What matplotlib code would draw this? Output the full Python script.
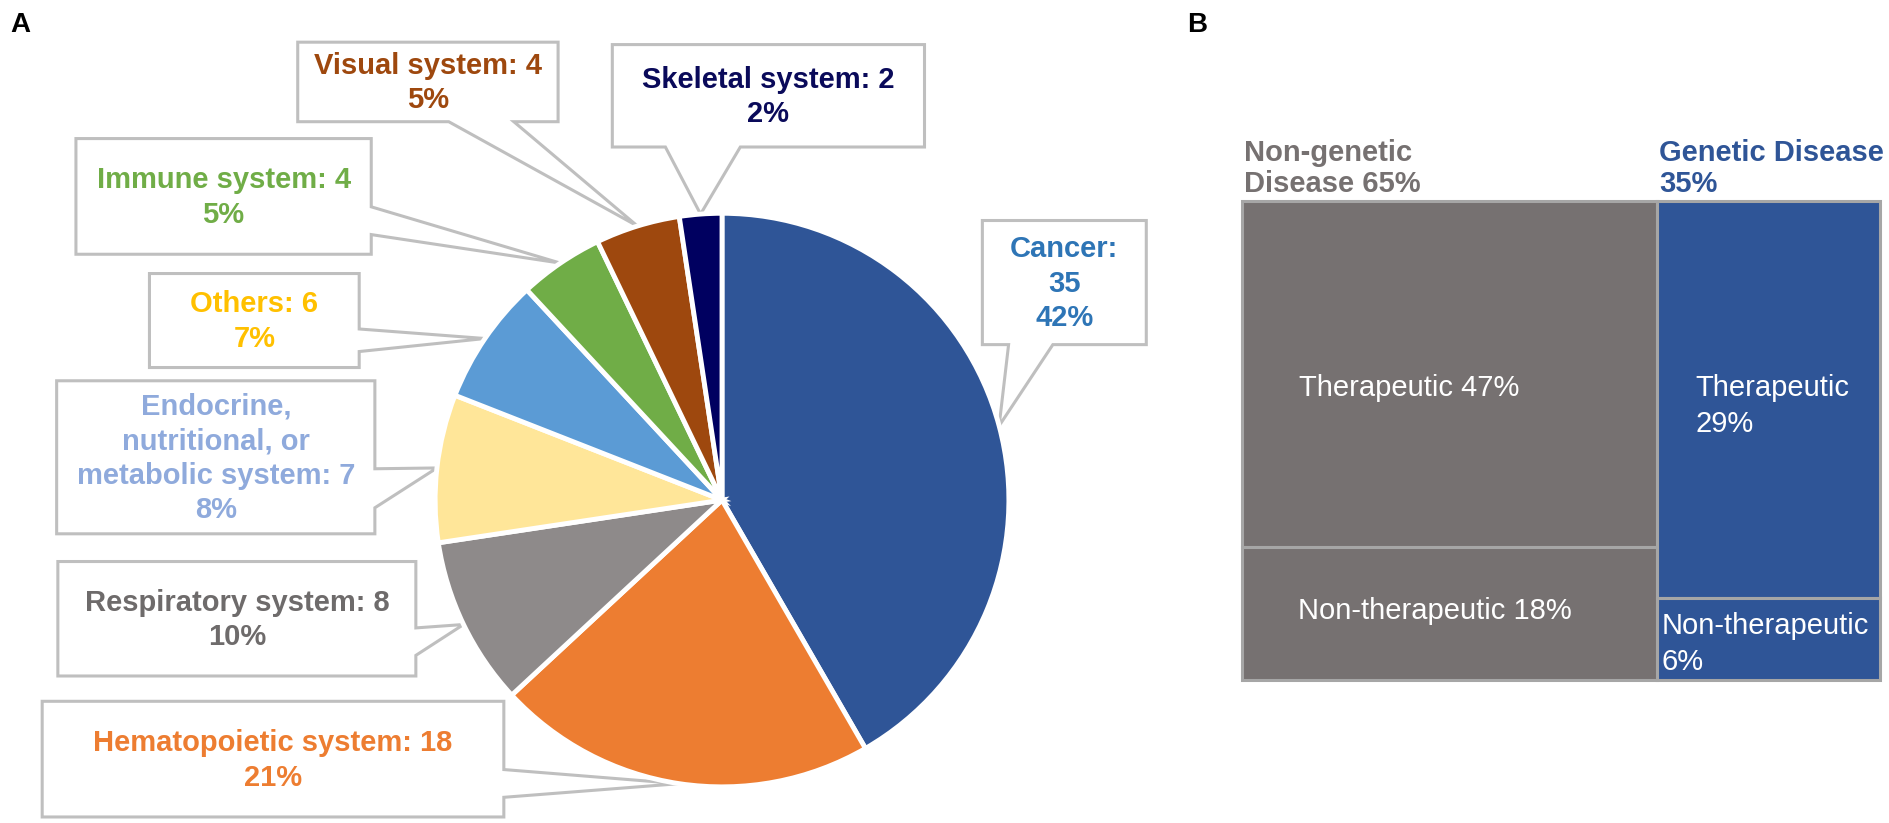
import numpy as np
import matplotlib.pyplot as plt
from matplotlib.patches import Rectangle, Polygon

plt.rcParams['font.family'] = ['Liberation Sans', 'DejaVu Sans']

# ---- panel A data: disease areas ----
areas = ["Cancer", "Hematopoietic system", "Respiratory system",
         "Endocrine,\nnutritional, or\nmetabolic system", "Others",
         "Immune system", "Visual system", "Skeletal system"]
counts = [35, 18, 8, 7, 6, 4, 4, 2]
wedge_colors = ['#2F5597', '#ED7D31', '#8E8A8A', '#FFE699',
                '#5B9BD5', '#70AD47', '#9E480E', '#000060']
label_colors = ['#2E75B6', '#ED7D31', '#6E6B6B', '#8FAADC',
                '#FFC000', '#70AD47', '#9E480E', '#0A0A5A']

# ---- panel B data: treemap ----
groups = ["Non-genetic\nDisease", "Genetic Disease"]
therapeutic = [47, 29]
non_therapeutic = [18, 6]
group_colors = ['#767171', '#2F5597']

W, H = 1568, 683
fig = plt.figure(figsize=(18.9, 8.23), dpi=100)
ax = fig.add_axes([0, 0, 1, 1])

# pie (y axis inverted later, so counterclock in data = clockwise on screen)
cx, cy, r = 599, 415, 238
wedges, _ = ax.pie(counts, colors=wedge_colors, startangle=-90, counterclock=True,
                   center=(cx, cy), radius=r, frame=True,
                   wedgeprops=dict(edgecolor='white', linewidth=3.5))

total = sum(counts)
# callout boxes: x0, y0, x1, y1, side where the pointer leaves, pointer base fractions
boxes = [(815, 183, 951, 286, 'bottom', 0.16, 0.43),
         (35, 582, 418, 678, 'right', 0.59, 0.83),
         (48, 466, 345, 561, 'right', 0.58, 0.82),
         (47, 316, 311, 443, 'right', 0.575, 0.83),
         (124, 227, 298, 305, 'right', 0.59, 0.83),
         (63, 115, 308, 211, 'right', 0.59, 0.83),
         (247, 35, 463, 101, 'bottom', 0.58, 0.83),
         (508, 37, 767, 122, 'bottom', 0.17, 0.41)]

for i, (wd, (x0, y0, x1, y1, side, f0, f1)) in enumerate(zip(wedges, boxes)):
    th = np.deg2rad((wd.theta1 + wd.theta2) / 2)
    tip = (cx + r * np.cos(th), cy + r * np.sin(th))
    w, h = x1 - x0, y1 - y0
    if side == 'right':
        pts = [(x0, y0), (x1, y0), (x1, y0 + f0 * h), tip,
               (x1, y0 + f1 * h), (x1, y1), (x0, y1)]
    else:
        pts = [(x0, y0), (x1, y0), (x1, y1), (x0 + f1 * w, y1), tip,
               (x0 + f0 * w, y1), (x0, y1)]
    ax.add_patch(Polygon(pts, closed=True, facecolor='white', edgecolor='#BFBFBF',
                         linewidth=2.2, zorder=0.5))
    pct = round(100 * counts[i] / total)
    sep = ":\n" if i == 0 else ": "
    txt = f"{areas[i]}{sep}{counts[i]}\n{pct}%"
    ax.text((x0 + x1) / 2, (y0 + y1) / 2 + 1, txt, ha='center', va='center',
            multialignment='center', fontsize=21, fontweight='bold',
            color=label_colors[i], linespacing=1.3, zorder=3)

# ---- treemap ----
tx0, ty0, tw, th_ = 1030, 167, 530, 397
sums = [a + b for a, b in zip(therapeutic, non_therapeutic)]
tot = sum(sums)
pads = [(48, 47), (32, 4)]
fys = [(0.54, 0.48), (0.517, 0.57)]
xc = tx0
for j in range(len(groups)):
    cw = tw * sums[j] / tot
    h1 = th_ * therapeutic[j] / sums[j]
    h2 = th_ - h1
    cells = [(ty0, h1, therapeutic[j], "Therapeutic", pads[j][0], fys[j][0]),
             (ty0 + h1, h2, non_therapeutic[j], "Non-therapeutic", pads[j][1], fys[j][1])]
    for (yy, hh, val, name, pad, fy) in cells:
        ax.add_patch(Rectangle((xc, yy), cw, hh, facecolor=group_colors[j],
                               edgecolor='#A6A6A6', linewidth=2.2, zorder=1))
        sep = " " if cw > 250 else "\n"
        ax.text(xc + pad, yy + fy * hh, f"{name}{sep}{val}%", ha='left', va='center',
                fontsize=21, color='white', linespacing=1.36, zorder=3)
    hdr_sep = " " if j == 0 else "\n"
    ax.text(xc + 2, ty0 - 3, f"{groups[j]}{hdr_sep}{sums[j]}%", ha='left', va='bottom',
            fontsize=21, fontweight='bold', color=group_colors[j], linespacing=1.1)
    xc += cw

ax.text(17, 21, "A", ha='center', va='center', fontsize=20, fontweight='bold')
ax.text(993, 21, "B", ha='center', va='center', fontsize=20, fontweight='bold')

ax.set_aspect('auto')
ax.set_xlim(0, W)
ax.set_ylim(H, 0)
ax.axis('off')

fig.savefig("out.png", dpi=100, facecolor='white')
